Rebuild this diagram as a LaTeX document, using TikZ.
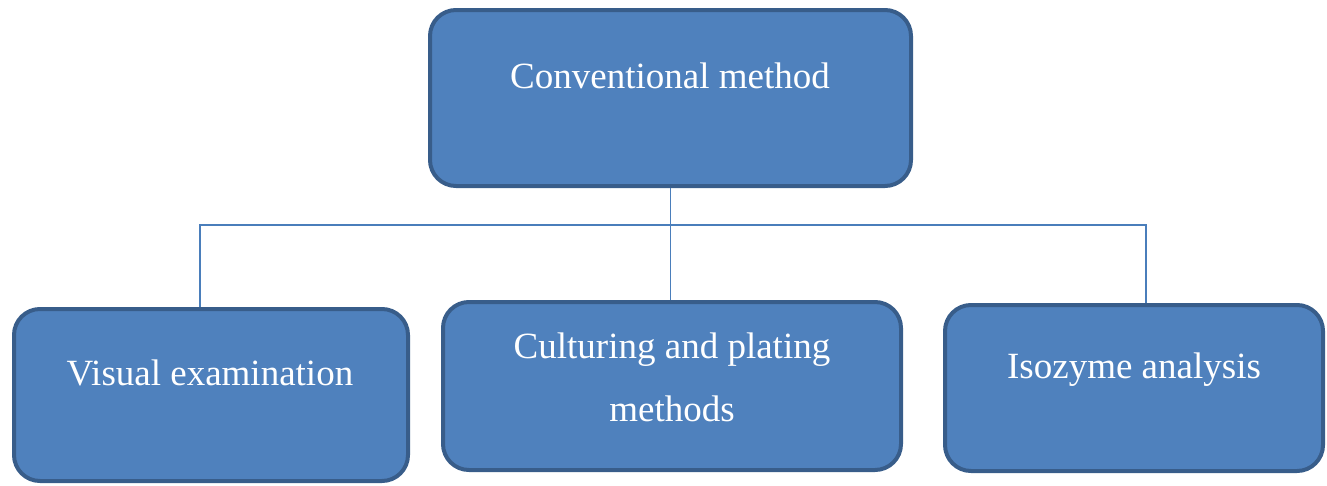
\documentclass[tikz,border=0pt]{standalone}
\usepackage{fontspec}
\setmainfont{Liberation Serif}
\definecolor{boxfill}{HTML}{4F81BD}
\definecolor{boxline}{HTML}{385D8A}
\definecolor{conn}{HTML}{4A7EBB}
\begin{document}
\begin{tikzpicture}[x=1pt,y=-1pt,
  box/.style={draw=boxline,fill=boxfill,line width=4pt,rounded corners=26pt,inner sep=0pt},
  lbl/.style={text=white,font=\fontsize{37}{63}\selectfont,align=center,inner sep=0pt},
  conline/.style={draw=conn,line width=1.5pt}]
\useasboundingbox (0,0) rectangle (1327,485);
\node[box,minimum width=481pt,minimum height=176pt] (top) at (670.5,98) {};
\node[box,minimum width=394pt,minimum height=172pt] (left) at (211,395) {};
\node[box,minimum width=458pt,minimum height=168pt] (mid) at (672,386) {};
\node[box,minimum width=378pt,minimum height=166pt] (right) at (1134,388) {};
\node[lbl] (toptext) at (670,76) {Conventional method};
\node[lbl] (lefttext) at (210,373) {Visual examination};
\node[lbl] (midtext) at (672,377) {Culturing and plating\\methods};
\node[lbl] (righttext) at (1134,370) {Isozyme analysis};
\coordinate (bus) at (670,225);
\draw[conline] (top.south) -- (mid.north -| top.south);
\draw[conline] ([xshift=-11pt]left.north) |- (bus) -| ([xshift=12pt]right.north);
\end{tikzpicture}
\end{document}
